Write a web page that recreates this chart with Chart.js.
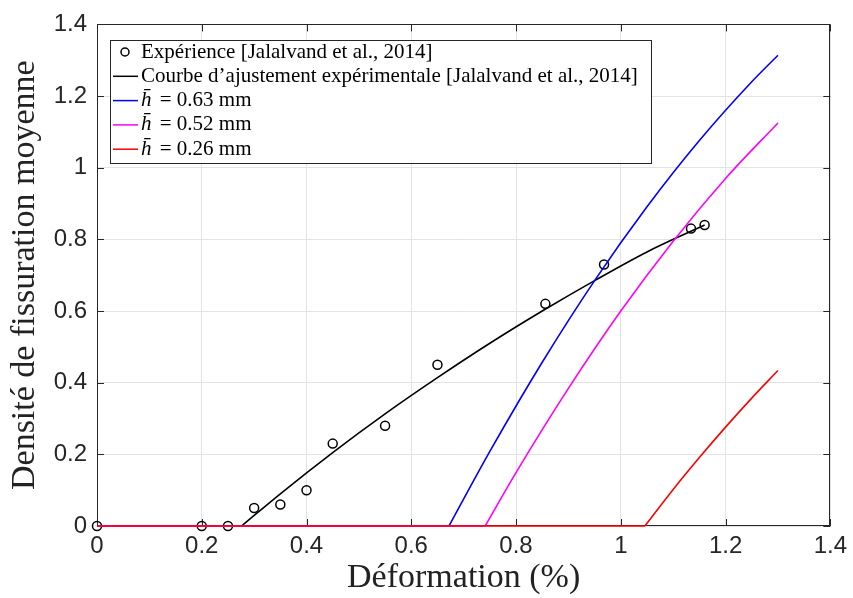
<!DOCTYPE html>
<html>
<head>
<meta charset="utf-8">
<script src="https://cdn.jsdelivr.net/npm/chart.js@4"></script>
<style>
html, body { margin: 0; padding: 0; background: #fff; }
</style>
</head>
<body>
<canvas id="chart" width="853" height="598"></canvas>
<script>
// experimental points
const expX = [0, 0.2, 0.25, 0.30, 0.35, 0.40, 0.45, 0.55, 0.65, 0.856, 0.968, 1.134, 1.16];
const expY = [0, 0, 0, 0.05, 0.06, 0.10, 0.23, 0.28, 0.45, 0.62, 0.73, 0.83, 0.84];

// fitted curve
const fitX = [0.276, 0.35, 0.45, 0.55, 0.65, 0.75, 0.85, 0.95, 1.05, 1.16];
const fitY = [0, 0.090, 0.205, 0.313, 0.414, 0.510, 0.600, 0.685, 0.765, 0.840];

// model curves (zero up to the first x, then rising)
const h063X = [0.672, 0.75, 0.85, 0.95, 1.05, 1.15, 1.25, 1.30];
const h063Y = [0, 0.208, 0.457, 0.685, 0.891, 1.076, 1.240, 1.314];
const h052X = [0.741, 0.80, 0.90, 1.00, 1.10, 1.20, 1.30];
const h052Y = [0, 0.149, 0.384, 0.600, 0.795, 0.970, 1.125];
const h026X = [1.046, 1.10, 1.15, 1.20, 1.25, 1.30];
const h026Y = [0, 0.102, 0.191, 0.276, 0.357, 0.434];

const labels = [
    "Expérience [Jalalvand et al., 2014]",
    "Courbe d’ajustement expérimentale [Jalalvand et al., 2014]",
    "h\u0304 = 0.63 mm",
    "h\u0304 = 0.52 mm",
    "h\u0304 = 0.26 mm"
];
const colors = ["#000000", "#000000", "#0000ff", "#ff00ff", "#ff0000"];

const xTicks = [0, 0.2, 0.4, 0.6, 0.8, 1, 1.2, 1.4];
const yTicks = [0, 0.2, 0.4, 0.6, 0.8, 1, 1.2, 1.4];

const AXIS = "#262626";
const SERIF = "'Liberation Serif', 'DejaVu Serif', serif";

function pts(xs, ys) {
    return xs.map((x, i) => ({x: x, y: ys[i]}));
}

// box, inward ticks and the legend
const boxPlugin = {
    id: "boxPlugin",
    beforeDatasetsDraw(chart) {
        const {ctx, chartArea: a, scales: {x, y}} = chart;
        ctx.save();
        ctx.strokeStyle = AXIS;
        ctx.lineWidth = 1;
        ctx.beginPath();
        xTicks.forEach(v => {
            const px = Math.round(x.getPixelForValue(v)) + 0.5;
            ctx.moveTo(px, a.bottom); ctx.lineTo(px, a.bottom - 7);
            ctx.moveTo(px, a.top); ctx.lineTo(px, a.top + 7);
        });
        yTicks.forEach(v => {
            const py = Math.round(y.getPixelForValue(v)) + 0.5;
            ctx.moveTo(a.left, py); ctx.lineTo(a.left + 7, py);
            ctx.moveTo(a.right, py); ctx.lineTo(a.right - 7, py);
        });
        ctx.stroke();
        ctx.strokeRect(Math.round(a.left) + 0.5, Math.round(a.top) + 0.5,
                       Math.round(a.width) - 1, Math.round(a.height) - 1);
        ctx.restore();
    },
    afterDraw(chart) {
        const ctx = chart.ctx;
        const bx = 110, by = 40, bw = 541, bh = 123;
        ctx.save();
        ctx.fillStyle = "#fff";
        ctx.fillRect(bx, by, bw, bh);
        ctx.strokeStyle = AXIS;
        ctx.lineWidth = 1;
        ctx.strokeRect(bx + 0.5, by + 0.5, bw, bh);
        ctx.textBaseline = "middle";
        labels.forEach((lab, i) => {
            const cy = by + 12 + i * 24.3;
            ctx.strokeStyle = colors[i];
            ctx.lineWidth = 1.5;
            ctx.beginPath();
            if (i === 0) {
                ctx.arc(125, cy, 4, 0, Math.PI * 2);
            } else {
                ctx.moveTo(113, cy); ctx.lineTo(138, cy);
            }
            ctx.stroke();
            ctx.fillStyle = "#000";
            let tx = 141;
            let rest = lab;
            if (lab.startsWith("h\u0304")) {
                ctx.font = "italic 21px " + SERIF;
                ctx.fillText("h\u0304", tx, cy);
                tx += ctx.measureText("h").width + 3;
                rest = lab.slice(2);
            }
            ctx.font = "21px " + SERIF;
            ctx.fillText(rest, tx, cy);
        });
        ctx.restore();
    }
};

function lineSet(i, data, order, label) {
    return {
        label: label,
        data: data,
        borderColor: colors[i],
        borderWidth: 1.6,
        pointRadius: 0,
        showLine: true,
        cubicInterpolationMode: "monotone",
        clip: false,
        order: order
    };
}

// flat part of each model curve, from 0 to where it starts rising
function flat(xs) {
    return [{x: 0, y: 0}, {x: xs[0], y: 0}];
}

new Chart(document.getElementById("chart"), {
    type: "scatter",
    data: {
        datasets: [
            {
                label: labels[0],
                data: pts(expX, expY),
                borderColor: colors[0],
                backgroundColor: "rgba(0,0,0,0)",
                pointRadius: 4.5,
                pointBorderWidth: 1.5,
                showLine: false,
                clip: false,
                order: 9
            },
            lineSet(1, pts(fitX, fitY), 8, labels[1]),
            lineSet(2, flat(h063X), 7, labels[2]),
            lineSet(2, pts(h063X, h063Y), 6, labels[2]),
            lineSet(3, flat(h052X), 5, labels[3]),
            lineSet(3, pts(h052X, h052Y), 4, labels[3]),
            lineSet(4, flat(h026X), 3, labels[4]),
            lineSet(4, pts(h026X, h026Y), 2, labels[4])
        ]
    },
    options: {
        responsive: false,
        devicePixelRatio: 1,
        animation: false,
        layout: {padding: {left: 0, right: 21, top: 23, bottom: 0}},
        plugins: {
            legend: {display: false},
            tooltip: {enabled: false}
        },
        scales: {
            x: {
                type: "linear",
                min: 0,
                max: 1.4,
                afterBuildTicks: s => { s.ticks = xTicks.map(v => ({value: v})); },
                afterFit: s => { s.height = 72; },
                grid: {color: "#e3e3e3", drawTicks: false},
                border: {display: false},
                ticks: {
                    padding: 6,
                    color: AXIS,
                    font: {family: "'Liberation Sans', Arial, sans-serif", size: 24},
                    callback: v => String(+v.toFixed(1))
                },
                title: {
                    display: true,
                    text: "Déformation (%)",
                    color: "#222",
                    font: {family: SERIF, size: 34},
                    padding: {top: 0, bottom: 0}
                }
            },
            y: {
                type: "linear",
                min: 0,
                max: 1.4,
                afterBuildTicks: s => { s.ticks = yTicks.map(v => ({value: v})); },
                afterFit: s => { s.width = 97; },
                grid: {color: "#e3e3e3", drawTicks: false},
                border: {display: false},
                ticks: {
                    padding: 10,
                    color: AXIS,
                    font: {family: "'Liberation Sans', Arial, sans-serif", size: 24},
                    callback: v => String(+v.toFixed(1))
                },
                title: {
                    display: true,
                    text: "Densité de fissuration moyenne",
                    color: "#222",
                    font: {family: SERIF, size: 34},
                    padding: {top: 5, bottom: 0}
                }
            }
        }
    },
    plugins: [boxPlugin]
});
</script>
</body>
</html>
